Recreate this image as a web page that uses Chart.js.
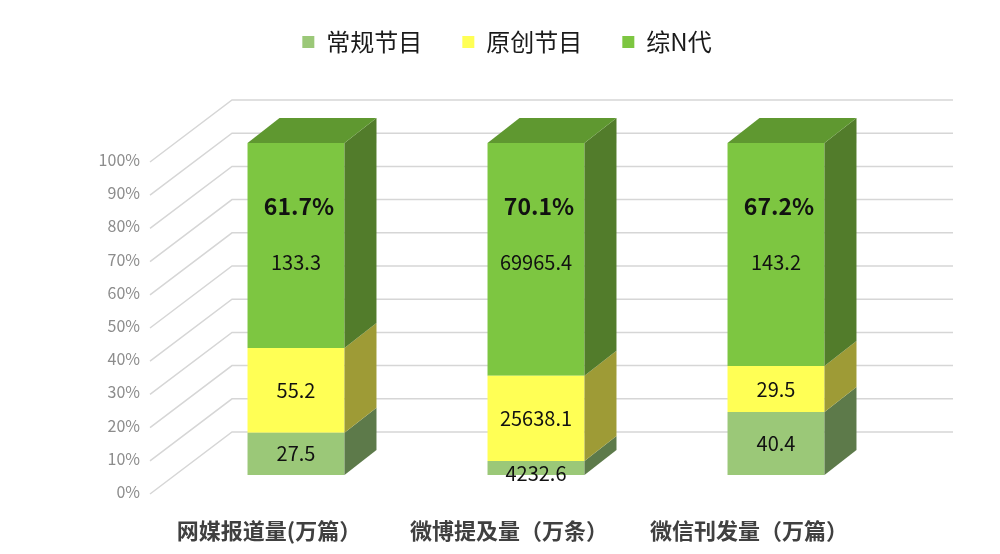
<!DOCTYPE html>
<html>
<head>
<meta charset="utf-8">
<script src="https://cdn.jsdelivr.net/npm/chart.js@4.4.0/dist/chart.umd.min.js"></script>
<style>
    html, body { margin: 0; padding: 0; background: #fff; }
</style>
</head>
<body>
<canvas id="shareChart" width="1000" height="554"></canvas>
<script>
// Data
const categories = ['网媒报道量(万篇）', '微博提及量（万条）', '微信刊发量（万篇）'];
const seriesNames = ['常规节目', '原创节目', '综N代'];
const regularShows = [27.5, 4232.6, 40.4];
const originalShows = [55.2, 25638.1, 29.5];
const sequelShows = [133.3, 69965.4, 143.2];

const rawSeries = [regularShows, originalShows, sequelShows];
const frontColors = ['#9bc878', '#ffff55', '#7dc641'];
const sideColors = ['#5d7a4a', '#9e9b36', '#527c2b'];
const topColor = '#5f9830';
const FONT = '"Noto Sans CJK SC", "Noto Sans", sans-serif';

// 100% stacked: turn each value into its share of the category total
const totals = categories.map((_, i) => regularShows[i] + originalShows[i] + sequelShows[i]);
const toShare = arr => arr.map((v, i) => v / totals[i] * 100);

// Depth of the fake 3D boxes
const DX = 32, DY = 25;

// Back wall grid: slanted line from the label, then flat along the wall
const wallGrid = {
    id: 'wallGrid',
    beforeDatasetsDraw(chart) {
        const { ctx, chartArea, scales: { y } } = chart;
        ctx.save();
        ctx.strokeStyle = '#d6d6d6';
        ctx.lineWidth = 1.5;
        y.ticks.forEach(t => {
            const yf = y.getPixelForValue(t.value);
            ctx.beginPath();
            ctx.moveTo(chartArea.left - 26, yf + 19);
            ctx.lineTo(chartArea.left + 56, yf - 43);
            ctx.lineTo(chartArea.right + 57, yf - 43);
            ctx.stroke();
        });
        ctx.restore();
    }
};

// Side and top faces for each bar segment
const box3d = {
    id: 'box3d',
    afterDatasetsDraw(chart) {
        const ctx = chart.ctx;
        const metas = chart.getSortedVisibleDatasetMetas();
        ctx.save();
        metas.forEach((meta, d) => {
            meta.data.forEach(bar => {
                const left = bar.x - bar.width / 2;
                const right = bar.x + bar.width / 2;
                ctx.fillStyle = sideColors[meta.index];
                ctx.beginPath();
                ctx.moveTo(right, bar.y);
                ctx.lineTo(right + DX, bar.y - DY);
                ctx.lineTo(right + DX, bar.base - DY);
                ctx.lineTo(right, bar.base);
                ctx.closePath();
                ctx.fill();
                if (d === metas.length - 1) {
                    ctx.fillStyle = topColor;
                    ctx.beginPath();
                    ctx.moveTo(left, bar.y);
                    ctx.lineTo(left + DX, bar.y - DY);
                    ctx.lineTo(right + DX, bar.y - DY);
                    ctx.lineTo(right, bar.y);
                    ctx.closePath();
                    ctx.fill();
                }
            });
        });
        ctx.restore();
    }
};

// Raw values in each segment, plus the bold share on the top series
const valueLabels = {
    id: 'valueLabels',
    afterDatasetsDraw(chart) {
        const { ctx, scales: { y } } = chart;
        const metas = chart.getSortedVisibleDatasetMetas();
        ctx.save();
        ctx.textAlign = 'center';
        ctx.textBaseline = 'middle';
        ctx.fillStyle = '#111';
        metas.forEach((meta, d) => {
            meta.data.forEach((bar, i) => {
                const raw = rawSeries[meta.index][i];
                let ty = (bar.y + bar.base) / 2;
                if (bar.base - bar.y < 24) ty = bar.base - 2;
                if (d === metas.length - 1) {
                    ty = y.getPixelForValue(64);
                    ctx.font = 'bold 23px ' + FONT;
                    const share = (raw / totals[i] * 100).toFixed(1) + '%';
                    ctx.fillText(share, bar.x + 3, y.getPixelForValue(81));
                }
                ctx.font = '20px ' + FONT;
                ctx.fillText(raw.toString(), bar.x, ty);
            });
        });
        ctx.restore();
    }
};

const ctx = document.getElementById('shareChart').getContext('2d');
new Chart(ctx, {
    type: 'bar',
    data: {
        labels: categories,
        datasets: seriesNames.map((name, k) => ({
            label: name,
            data: toShare(rawSeries[k]),
            backgroundColor: frontColors[k],
            borderWidth: 0,
            categoryPercentage: 1,
            barPercentage: 0.404
        }))
    },
    options: {
        responsive: false,
        animation: false,
        layout: { padding: { top: -10, left: 14, right: 0, bottom: 0 } },
        scales: {
            x: {
                stacked: true,
                grid: { display: false, drawTicks: false },
                border: { display: false },
                ticks: {
                    color: '#404040',
                    font: { family: FONT, size: 22, weight: 'bold' },
                    padding: 42,
                    labelOffset: -27,
                    maxRotation: 0,
                    autoSkip: false
                },
                afterFit(scale) { scale.height = 79; }
            },
            y: {
                stacked: true,
                min: 0,
                max: 100,
                grid: { display: false, drawTicks: false },
                border: { display: false },
                ticks: {
                    stepSize: 10,
                    color: '#8c8c8c',
                    font: { family: FONT, size: 16 },
                    padding: 36,
                    labelOffset: 17,
                    callback: v => v + '%'
                },
                afterFit(scale) { scale.width = 162; }
            }
        },
        plugins: {
            legend: {
                position: 'top',
                labels: {
                    color: '#1a1a1a',
                    font: { family: FONT, size: 24 },
                    boxWidth: 12,
                    boxHeight: 12,
                    padding: 40
                }
            },
            // blank title used as a spacer between legend and plot
            title: {
                display: true,
                text: ' ',
                weight: 500,
                font: { size: 10 },
                padding: { top: 34, bottom: 33 }
            },
            // blank subtitle used as right-hand margin
            subtitle: {
                display: true,
                text: ' ',
                position: 'right',
                fullSize: false,
                font: { size: 10 },
                padding: { top: 46, bottom: 46 }
            },
            tooltip: { enabled: false }
        }
    },
    plugins: [wallGrid, box3d, valueLabels]
});
</script>
</body>
</html>
